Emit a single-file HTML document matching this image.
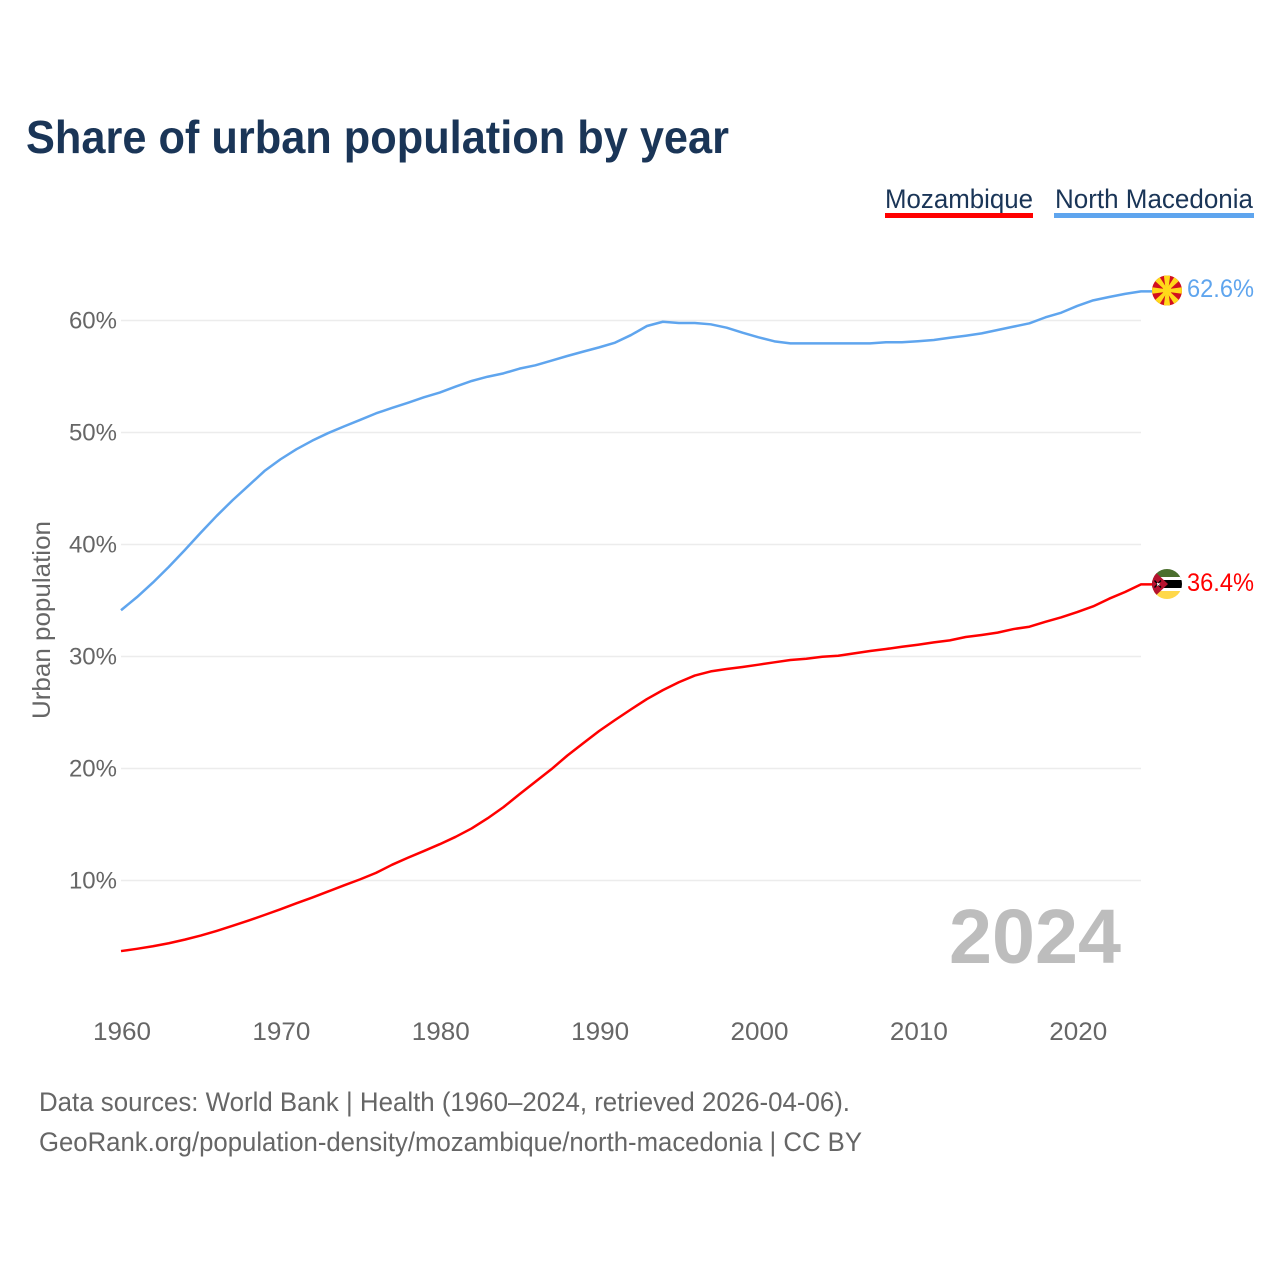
<!DOCTYPE html>
<html lang="en">
<head>
<meta charset="utf-8">
<title>Share of urban population by year</title>
<style>
html,body{margin:0;padding:0;background:#fff;width:1280px;height:1280px;overflow:hidden}
svg{display:block}
text{font-family:"Liberation Sans",Arial,sans-serif}
</style>
</head>
<body>
<svg id="chart" xmlns="http://www.w3.org/2000/svg" width="1280" height="1280" viewBox="0 0 1280 1280">
  <defs>
    <clipPath id="flag-clip-mk"><circle cx="1167" cy="290.5" r="15"/></clipPath>
    <clipPath id="flag-clip-mz"><circle cx="1167" cy="584" r="15"/></clipPath>
  </defs>
  <rect width="1280" height="1280" fill="#fff"/>
  <text x="26" y="153" font-size="46" font-weight="700" fill="#1a3557" textLength="703" lengthAdjust="spacingAndGlyphs">Share of urban population by year</text>

  <g>
    <text x="885" y="208" font-size="27" fill="#1a3557" textLength="148" lengthAdjust="spacingAndGlyphs">Mozambique</text>
    <rect x="885" y="213" width="148" height="5" fill="#ff0000"/>
  </g>
  <g>
    <text x="1055" y="208" font-size="27" fill="#1a3557" textLength="198" lengthAdjust="spacingAndGlyphs">North Macedonia</text>
    <rect x="1054" y="213" width="200" height="5" fill="#5fa5ee"/>
  </g>

  <g id="grid"></g>
  <g id="y-axis"></g>
  <g id="x-axis"></g>
  <text transform="translate(50,620) rotate(-90)" text-anchor="middle" font-size="25" fill="#666" textLength="198" lengthAdjust="spacingAndGlyphs">Urban population</text>

  <g id="series"></g>

  <text x="949" y="963" font-size="77" font-weight="700" fill="#bdbdbd" textLength="172" lengthAdjust="spacingAndGlyphs">2024</text>

  <g clip-path="url(#flag-clip-mk)">
    <rect x="1150" y="274" width="34" height="34" fill="#d20f1f"/>
    <g fill="#ffd91a">
      <polygon points="1165.8,290.5 1168.2,290.5 1170.5,273 1163.5,273"/>
      <polygon points="1165.8,290.5 1168.2,290.5 1170.5,308 1163.5,308"/>
      <polygon points="1167,289.3 1167,291.7 1184,294 1184,287"/>
      <polygon points="1167,289.3 1167,291.7 1150,294 1150,287"/>
      <polygon points="1166,290 1168,291 1159,305 1154,301"/>
      <polygon points="1168,290 1166,291 1175,305 1180,301"/>
      <polygon points="1166,291 1168,290 1159,276 1154,280"/>
      <polygon points="1168,291 1166,290 1175,276 1180,280"/>
    </g>
    <circle cx="1167" cy="290.5" r="4.4" fill="#ffd91a"/>
  </g>

  <g clip-path="url(#flag-clip-mz)">
    <rect x="1150" y="568" width="34" height="11" fill="#4b6f2e"/>
    <rect x="1150" y="577" width="34" height="3" fill="#fff"/>
    <rect x="1150" y="580" width="34" height="8" fill="#000"/>
    <rect x="1150" y="588" width="34" height="3" fill="#fff"/>
    <rect x="1150" y="591" width="34" height="10" fill="#ffd84a"/>
    <polygon points="1150,567 1168,584 1150,601" fill="#b5122e"/>
    <path d="M1154.5,580.5 L1161,587.5 M1161,580.5 L1154.5,587.5" stroke="#000" stroke-width="1.3"/>
    <path d="M1157,583 L1159.5,585.5 M1159.5,583 L1157,585.5" stroke="#fff" stroke-width="0.9"/>
  </g>

  <text x="1187" y="297" font-size="25" fill="#5fa5ee" textLength="67" lengthAdjust="spacingAndGlyphs">62.6%</text>
  <text x="1187" y="591" font-size="25" fill="#ff0000" textLength="67" lengthAdjust="spacingAndGlyphs">36.4%</text>

  <text x="39" y="1111" font-size="27" fill="#666" textLength="811" lengthAdjust="spacingAndGlyphs">Data sources: World Bank | Health (1960–2024, retrieved 2026-04-06).</text>
  <text x="39" y="1151" font-size="27" fill="#666" textLength="823" lengthAdjust="spacingAndGlyphs">GeoRank.org/population-density/mozambique/north-macedonia | CC BY</text>
</svg>
<script>
const firstYear = 1960;
const yTicks = [10, 20, 30, 40, 50, 60];
const xTicks = [1960, 1970, 1980, 1990, 2000, 2010, 2020];
const mozambique = [
  3.70, 3.90, 4.13, 4.40, 4.72, 5.08, 5.50, 5.95, 6.42, 6.92,
  7.43, 7.96, 8.48, 9.02, 9.57, 10.10, 10.68, 11.40, 12.03, 12.63,
  13.24, 13.90, 14.65, 15.55, 16.55, 17.70, 18.82, 19.93, 21.15, 22.25,
  23.35, 24.33, 25.28, 26.20, 27.00, 27.70, 28.30, 28.67, 28.88, 29.06,
  29.27, 29.48, 29.69, 29.80, 29.98, 30.07, 30.28, 30.49, 30.67, 30.87,
  31.05, 31.26, 31.44, 31.74, 31.92, 32.13, 32.45, 32.66, 33.10, 33.50,
  33.97, 34.48, 35.16, 35.76, 36.44
];
const northMacedonia = [
  34.13, 35.30, 36.60, 38.00, 39.50, 41.05, 42.55, 43.95, 45.25, 46.56,
  47.60, 48.50, 49.27, 49.95, 50.55, 51.12, 51.71, 52.19, 52.65, 53.14,
  53.57, 54.10, 54.60, 54.98, 55.28, 55.70, 56.00, 56.41, 56.83, 57.22,
  57.60, 58.02, 58.70, 59.51, 59.89, 59.78, 59.78, 59.66, 59.36, 58.91,
  58.50, 58.14, 57.96, 57.96, 57.96, 57.96, 57.96, 57.96, 58.06, 58.06,
  58.15, 58.26, 58.46, 58.64, 58.85, 59.15, 59.45, 59.75, 60.28, 60.70,
  61.30, 61.80, 62.10, 62.38, 62.60
];

const NS = 'http://www.w3.org/2000/svg';
function xScale(year) { return 121 + (year - firstYear) * (1020 / 64); }
function yScale(pct) { return 880.5 - (pct - 10) * 11.2; }

const gridGroup = document.getElementById('grid');
const yAxisGroup = document.getElementById('y-axis');
const xAxisGroup = document.getElementById('x-axis');
const seriesGroup = document.getElementById('series');

yTicks.forEach(function (t) {
  const line = document.createElementNS(NS, 'line');
  
  
  line.setAttribute('x1', 121);
  line.setAttribute('x2', 1141);
  line.setAttribute('y1', yScale(t));
  line.setAttribute('y2', yScale(t));
  line.setAttribute('stroke', '#ececec');
  line.setAttribute('stroke-width', 1.5);
  gridGroup.appendChild(line);

  const label = document.createElementNS(NS, 'text');
  
  
  label.setAttribute('x', 117);
  label.setAttribute('y', yScale(t) + 8);
  label.setAttribute('text-anchor', 'end');
  label.setAttribute('font-size', 24);
  label.setAttribute('fill', '#666');
  label.textContent = t + '%';
  yAxisGroup.appendChild(label);
});

xTicks.forEach(function (t) {
  const label = document.createElementNS(NS, 'text');
  
  
  label.setAttribute('x', xScale(t) + 1);
  label.setAttribute('y', 1040);
  label.setAttribute('text-anchor', 'middle');
  label.setAttribute('font-size', 25);
  label.setAttribute('fill', '#666');
  label.setAttribute('textLength', 58);
  label.setAttribute('lengthAdjust', 'spacingAndGlyphs');
  label.textContent = t;
  xAxisGroup.appendChild(label);
});

function seriesPath(values) {
  let d = values.map(function (v, i) {
    return (i ? 'L' : 'M') + xScale(firstYear + i).toFixed(2) + ' ' + yScale(v).toFixed(2);
  }).join(' ');
  const last = values[values.length - 1];
  d += ' L' + (xScale(firstYear + values.length - 1) + 12).toFixed(2) + ' ' + yScale(last).toFixed(2);
  return d;
}

const lineMz = document.createElementNS(NS, 'path');


lineMz.setAttribute('d', seriesPath(mozambique));
lineMz.setAttribute('fill', 'none');
lineMz.setAttribute('stroke', '#ff0000');
lineMz.setAttribute('stroke-width', 2.5);
lineMz.setAttribute('stroke-linejoin', 'round');
seriesGroup.appendChild(lineMz);

const lineMk = document.createElementNS(NS, 'path');


lineMk.setAttribute('d', seriesPath(northMacedonia));
lineMk.setAttribute('fill', 'none');
lineMk.setAttribute('stroke', '#5fa5ee');
lineMk.setAttribute('stroke-width', 2.5);
lineMk.setAttribute('stroke-linejoin', 'round');
seriesGroup.appendChild(lineMk);
</script>
</body>
</html>
